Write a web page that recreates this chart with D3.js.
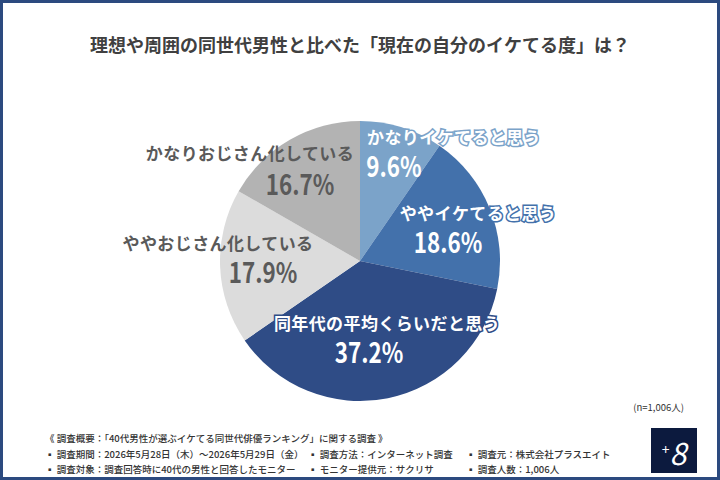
<!DOCTYPE html>
<html lang="ja">
  <head>
    <meta charset="UTF-8" />
    <title>pie</title>
    <script src="https://cdnjs.cloudflare.com/ajax/libs/d3/7.9.0/d3.min.js"></script>
    <style>
      body { margin: 0; background: #fff; }
      svg text { font-family: "Noto Sans CJK JP", "Noto Sans", sans-serif; }
    </style>
  </head>
  <body>
    <div id="wrapper"></div>
    <script>
      const categories = [
        "かなりイケてると思う",
        "ややイケてると思う",
        "同年代の平均くらいだと思う",
        "ややおじさん化している",
        "かなりおじさん化している",
      ];
      const values = [9.6, 18.6, 37.2, 17.9, 16.7];
      const colors = ["#7ba3c9", "#4371ab", "#2f4c86", "#dcdcdc", "#b3b3b3"];
      const textColors = ["#fff", "#fff", "#fff", "#5a5a5a", "#5a5a5a"];

      const footerLines = [
        ["《 調査概要：「40代男性が選ぶイケてる同世代俳優ランキング」に関する調査 》"],
        ["▪ 調査期間：2026年5月28日（木）～2026年5月29日（金）", "▪ 調査方法：インターネット調査", "▪ 調査元：株式会社プラスエイト"],
        ["▪ 調査対象：調査回答時に40代の男性と回答したモニター", "▪ モニター提供元：サクリサ", "▪ 調査人数：1,006人"],
      ];

      const dimensions = { width: 720, height: 480, cx: 360, cy: 261, radius: 140 };
      // label offsets from pie center: [name dx, name dy, pct dx, pct dy]
      const labelPos = [
        [94, -125, 34, -96],
        [118, -49, 88, -20],
        [27, 61, 9, 90],
        [-142, -19, -97, 10],
        [-110, -109, -60, -78],
      ];

      const data = categories.map((c, i) => ({ name: c, value: values[i] }));

      const svg = d3
        .select("#wrapper")
        .append("svg")
        .attr("width", dimensions.width)
        .attr("height", dimensions.height);

      // frame
      svg
        .append("rect")
        .attr("x", 1.5)
        .attr("y", 1.5)
        .attr("width", dimensions.width - 3)
        .attr("height", dimensions.height - 3)
        .attr("fill", "#fff")
        .attr("stroke", "#2c4a7f")
        .attr("stroke-width", 3);

      svg
        .append("text")
        .attr("x", 360)
        .attr("y", 44)
        .attr("text-anchor", "middle")
        .attr("dominant-baseline", "central")
        .attr("font-size", 18)
        .attr("font-weight", 700)
        .attr("fill", "#404040")
        .text("理想や周囲の同世代男性と比べた「現在の自分のイケてる度」は？");

      const pie = d3.pie().sort(null).value((d) => d.value);
      const arc = d3.arc().innerRadius(0).outerRadius(dimensions.radius);
      const arcs = pie(data);

      const bounds = svg
        .append("g")
        .attr("transform", `translate(${dimensions.cx},${dimensions.cy})`);

      bounds
        .selectAll("path")
        .data(arcs)
        .join("path")
        .attr("d", arc)
        .attr("fill", (d, i) => colors[i]);

      const labels = bounds.selectAll("g.label").data(arcs).join("g").attr("class", "label");

      labels
        .append("text")
        .attr("x", (d, i) => labelPos[i][0])
        .attr("y", (d, i) => labelPos[i][1])
        .attr("text-anchor", "middle")
        .attr("dominant-baseline", "central")
        .attr("font-size", 17)
        .attr("font-weight", 700)
        .attr("letter-spacing", 0.4)
        .attr("fill", (d, i) => textColors[i])
        .attr("stroke", (d, i) => (i < 3 ? colors[i] : "none"))
        .attr("stroke-width", 3)
        .attr("paint-order", "stroke")
        .text((d) => d.data.name);

      labels
        .append("text")
        .attr(
          "transform",
          (d, i) => `translate(${labelPos[i][2]},${labelPos[i][3]}) scale(0.8,1)`
        )
        .attr("text-anchor", "middle")
        .attr("dominant-baseline", "central")
        .attr("font-size", 28)
        .attr("font-weight", 700)
        .attr("fill", (d, i) => textColors[i])
        .text((d) => d3.format(".1f")(d.data.value) + "%");

      svg
        .append("text")
        .attr("x", 684)
        .attr("y", 407)
        .attr("text-anchor", "end")
        .attr("dominant-baseline", "central")
        .attr("font-size", 9.5)
        .attr("fill", "#333")
        .text("(n=1,006人)");

      const colX = [45, 308, 466];
      footerLines.forEach((line, r) => {
        line.forEach((t, c) => {
          svg
            .append("text")
            .attr("x", colX[c])
            .attr("y", 438 + r * 15.5)
            .attr("dominant-baseline", "central")
            .attr("font-size", 9.5)
            .attr("font-weight", 500)
            .attr("fill", "#333")
            .text(t);
        });
      });

      // logo
      svg
        .append("rect")
        .attr("x", 651)
        .attr("y", 428)
        .attr("width", 46)
        .attr("height", 45)
        .attr("fill", "#0c1a3e");
      const logo = svg
        .append("text")
        .attr("x", 674)
        .attr("y", 452)
        .attr("text-anchor", "middle")
        .attr("dominant-baseline", "central")
        .attr("fill", "#fff")
        .attr("font-family", "'Liberation Serif', serif");
      logo.append("tspan").attr("font-size", 14).attr("dy", -3).text("+");
      logo
        .append("tspan")
        .attr("font-size", 30)
        .attr("font-style", "italic")
        .attr("dy", 3)
        .text("8");
    </script>
  </body>
</html>
